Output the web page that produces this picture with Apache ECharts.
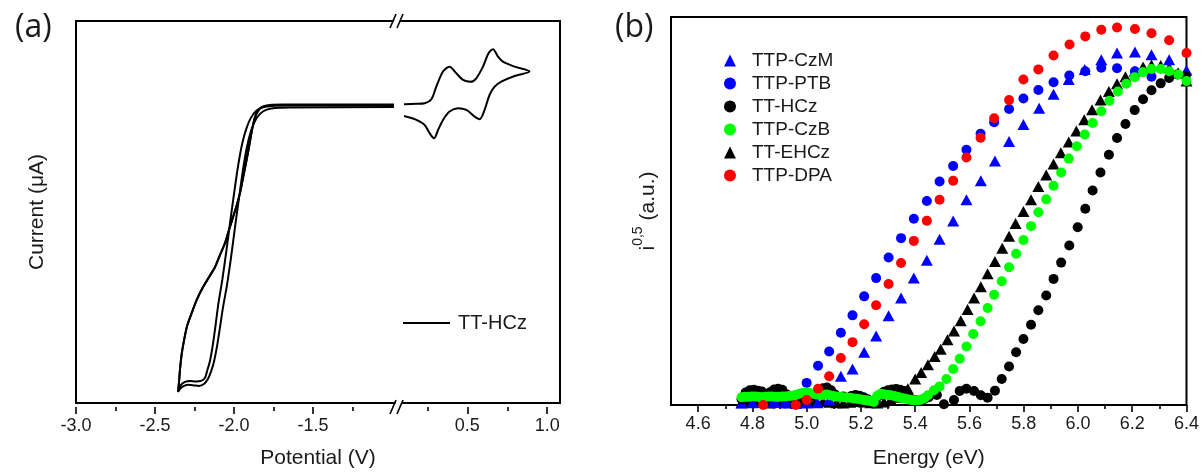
<!DOCTYPE html>
<html>
<head>
<meta charset="utf-8">
<script src="https://cdn.jsdelivr.net/npm/echarts@6/dist/echarts.min.js"></script>
<style>
  html, body { margin: 0; padding: 0; background: #fff; }
  #chart { width: 1202px; height: 474px; }
</style>
</head>
<body>
<div id="chart"></div>
<script>
// ---------- (a) cyclic voltammogram of TT-HCz: [potential (V), current (uA)] ----------
// Reduction side, first cycle: plateau -> cathodic branch -> vertex -> return branch
const cvReductionCycle1 = [
  [-0.987, 0.12], [-1.392, 0.12], [-1.677, 0.11], [-1.772, 0.08], [-1.823, -0.08],
  [-1.848, -0.39], [-1.867, -0.85], [-1.886, -1.87], [-1.905, -3.19], [-1.924, -4.43],
  [-1.943, -5.60], [-1.962, -6.76], [-1.984, -7.77], [-2.006, -8.63], [-2.032, -9.64],
  [-2.057, -10.65], [-2.089, -11.58], [-2.120, -12.51], [-2.158, -13.29], [-2.196, -14.07],
  [-2.234, -15.00], [-2.268, -16.09], [-2.297, -17.10], [-2.316, -18.19], [-2.332, -19.35],
  [-2.342, -20.52], [-2.348, -21.45], [-2.354, -22.23],
  [-2.342, -22.00], [-2.316, -21.76], [-2.285, -21.68], [-2.253, -21.72], [-2.222, -21.76],
  [-2.190, -21.61], [-2.165, -21.22], [-2.146, -20.67], [-2.127, -19.90], [-2.108, -18.73],
  [-2.089, -17.25], [-2.070, -15.70], [-2.044, -13.91], [-2.019, -11.81], [-1.994, -9.48],
  [-1.968, -7.15], [-1.943, -4.97], [-1.918, -3.19], [-1.892, -1.94], [-1.867, -1.17],
  [-1.835, -0.62], [-1.797, -0.31], [-1.741, -0.16], [-1.646, -0.12], [-0.987, -0.08]
];
// Reduction side, second cycle
const cvReductionCycle2 = [
  [-0.987, 0.04], [-1.392, 0.05], [-1.677, 0.05], [-1.772, 0.03], [-1.823, -0.10],
  [-1.848, -0.42], [-1.867, -0.88], [-1.886, -1.90], [-1.905, -3.22], [-1.924, -4.46],
  [-1.943, -5.63], [-1.962, -6.79], [-1.984, -7.80], [-2.006, -8.66], [-2.032, -9.67],
  [-2.057, -10.68], [-2.089, -11.61], [-2.120, -12.54], [-2.158, -13.32], [-2.196, -14.10],
  [-2.234, -15.03], [-2.268, -16.12], [-2.297, -17.13], [-2.316, -18.22], [-2.332, -19.38],
  [-2.342, -20.55], [-2.348, -21.48], [-2.354, -22.20],
  [-2.335, -21.68], [-2.310, -21.45], [-2.278, -21.37], [-2.241, -21.41], [-2.209, -21.37],
  [-2.184, -21.14], [-2.170, -20.60], [-2.152, -19.82], [-2.134, -18.58], [-2.117, -17.10],
  [-2.099, -15.39], [-2.074, -13.52], [-2.049, -11.35], [-2.024, -9.02], [-1.998, -6.68],
  [-1.973, -4.59], [-1.947, -2.88], [-1.920, -1.71], [-1.893, -0.93], [-1.860, -0.39],
  [-1.820, -0.12], [-1.762, 0.00], [-1.646, 0.03], [-0.987, 0.03]
];
// Oxidation side: forward sweep to the vertex, then the return sweep
const cvOxidation = [
  [0.104, 0.13], [0.181, 0.16], [0.233, 0.21], [0.275, 0.52], [0.306, 1.50],
  [0.348, 2.67], [0.389, 3.05], [0.431, 2.54], [0.473, 2.02], [0.521, 1.87],
  [0.556, 2.15], [0.598, 3.05], [0.633, 4.10], [0.661, 4.41], [0.692, 3.83],
  [0.723, 3.44], [0.796, 3.05], [0.889, 2.67],
  [0.796, 2.33], [0.713, 1.89], [0.671, 1.50], [0.639, 0.85], [0.608, -0.31],
  [0.577, -1.03], [0.546, -0.83], [0.494, -0.31], [0.442, -0.18], [0.389, -0.44],
  [0.348, -1.09], [0.317, -1.87], [0.292, -2.51], [0.264, -2.12], [0.233, -1.48],
  [0.171, -1.03], [0.104, -0.78]
];
const potentialLabelsLeft = [-3.0, -2.5, -2.0, -1.5];
const potentialMinorLeft = [-2.75, -2.25, -1.75, -1.25];
const potentialLabelsRight = [0.5, 1.0];
const potentialMinorRight = [0.25, 0.75];

// ---------- (b) photoelectron yield: [energy (eV), i^0.5 (a.u.)] ----------
const energyLabels = [4.6, 4.8, 5.0, 5.2, 5.4, 5.6, 5.8, 6.0, 6.2, 6.4];
const energyMinor = [4.7, 4.9, 5.1, 5.3, 5.5, 5.7, 5.9, 6.1, 6.3];

const ttpCzM = [
  [4.76, 0.5], [4.80, 0.6], [4.84, 0.7], [4.88, 0.7], [4.92, 0.5], [4.96, 0.4], [5.00, 0.5], [5.04, 0.6],
  [5.083, 1.4], [5.126, 7.4], [5.169, 9.3], [5.212, 13.6], [5.256, 17.8], [5.302, 23.0],
  [5.348, 27.6], [5.395, 32.7], [5.443, 37.3], [5.490, 42.7], [5.540, 47.4], [5.589, 52.9],
  [5.642, 57.8], [5.694, 62.9], [5.746, 67.9], [5.799, 72.3], [5.857, 76.5], [5.910, 80.1],
  [5.966, 83.9], [6.025, 86.5], [6.086, 89.0], [6.144, 90.7], [6.210, 91.0], [6.271, 90.3],
  [6.336, 89.0], [6.400, 86.3]
];
const ttpPTB = [
  [4.88, 0.3], [4.922, 0.4], [4.962, 2.55], [5.000, 5.7], [5.042, 10.1], [5.083, 13.8],
  [5.126, 18.6], [5.169, 23.1], [5.212, 28.0], [5.256, 32.7], [5.302, 38.0], [5.348, 43.0],
  [5.395, 48.0], [5.443, 52.6], [5.490, 57.6], [5.540, 61.6], [5.589, 65.8], [5.641, 69.9],
  [5.691, 72.9], [5.746, 76.3], [5.799, 79.0], [5.854, 81.2], [5.910, 83.2], [5.968, 84.9],
  [6.027, 86.0], [6.086, 86.9], [6.144, 86.8], [6.210, 86.0], [6.271, 84.6]
];
const ttHCz = [
  [4.760, 1.5], [4.775, 3.2], [4.790, 3.8], [4.805, 3.9], [4.820, 3.7], [4.835, 3.5],
  [4.850, 2.6], [4.865, 3.3], [4.880, 4.0], [4.895, 4.2], [4.910, 3.9], [4.925, 2.8],
  [4.940, 2.0], [4.955, 1.6], [4.970, 1.8], [4.985, 2.4], [5.000, 3.0], [5.015, 2.2],
  [5.030, 2.9], [5.045, 3.6], [5.060, 4.3], [5.075, 4.5], [5.090, 3.8], [5.105, 2.7],
  [5.120, 2.0], [5.135, 2.2], [5.150, 1.9], [5.165, 2.3], [5.180, 2.6], [5.195, 2.4],
  [5.210, 2.0], [5.225, 1.5], [5.240, 1.0], [5.255, 0.8], [5.270, 2.5], [5.285, 3.4],
  [5.300, 3.8], [5.315, 4.0], [5.330, 4.1], [5.345, 3.9], [5.360, 3.6], [5.375, 2.2],
  [5.390, 1.4], [5.405, 1.2], [5.420, 1.0], [5.435, 1.6], [5.450, 2.0], [5.465, 2.9],
  [5.480, 2.6], [5.506, 0.2], [5.543, 1.3], [5.564, 3.6], [5.589, 4.2], [5.617, 3.6],
  [5.642, 2.5], [5.667, 1.9], [5.694, 3.7], [5.719, 6.7], [5.746, 9.9], [5.772, 13.6],
  [5.799, 17.0], [5.827, 20.7], [5.854, 24.4], [5.883, 28.2], [5.910, 32.5], [5.938, 36.7],
  [5.968, 41.1], [5.999, 45.8], [6.027, 50.6], [6.054, 55.3], [6.083, 59.9], [6.114, 64.5],
  [6.144, 68.8], [6.175, 72.4], [6.209, 76.0], [6.240, 78.8], [6.271, 81.1], [6.305, 82.9],
  [6.336, 84.3], [6.367, 85.2], [6.397, 84.8]
];
const ttpCzB = [
  [4.7600, 2.0], [4.7725, 2.1], [4.7850, 2.1], [4.7975, 2.2], [4.8100, 2.2], [4.8225, 2.1],
  [4.8350, 2.0], [4.8475, 2.1], [4.8600, 2.2], [4.8725, 2.2], [4.8850, 2.1], [4.8975, 2.1],
  [4.9100, 2.2], [4.9225, 2.2], [4.9350, 2.3], [4.9475, 2.4], [4.9600, 2.6], [4.9725, 2.9],
  [4.9850, 3.1], [4.9975, 3.2], [5.0100, 3.1], [5.0225, 2.9], [5.0350, 2.7], [5.0475, 2.6],
  [5.0600, 2.6], [5.0725, 2.7], [5.0850, 2.5], [5.0975, 2.3], [5.1100, 2.2], [5.1225, 2.1],
  [5.1350, 2.0], [5.1475, 1.9], [5.1600, 1.9], [5.1725, 1.7], [5.1850, 1.6], [5.1975, 1.5],
  [5.2100, 1.3], [5.2225, 1.2], [5.2350, 1.0], [5.2475, 0.8], [5.2600, 2.4], [5.2725, 2.9],
  [5.2850, 2.8], [5.2975, 2.6], [5.3100, 2.5], [5.3225, 2.3], [5.3350, 2.1], [5.3475, 1.9],
  [5.3600, 1.7], [5.3725, 1.5], [5.3850, 1.3], [5.3975, 1.2], [5.4100, 1.2], [5.4225, 1.4],
  [5.4350, 1.8], [5.447, 2.5], [5.469, 3.8], [5.490, 4.8], [5.515, 6.7], [5.540, 9.3],
  [5.564, 11.9], [5.589, 15.1], [5.614, 18.3], [5.641, 21.6], [5.667, 25.0], [5.691, 28.4],
  [5.719, 31.9], [5.746, 35.5], [5.772, 39.0], [5.799, 42.5], [5.827, 46.1], [5.854, 49.7],
  [5.883, 53.0], [5.910, 56.5], [5.938, 59.9], [5.966, 63.5], [5.996, 66.7], [6.025, 69.7],
  [6.054, 72.7], [6.086, 75.7], [6.116, 78.4], [6.147, 80.8], [6.178, 82.8], [6.209, 84.5],
  [6.240, 85.8], [6.271, 86.6], [6.305, 86.6], [6.336, 86.0], [6.370, 85.2], [6.400, 83.5]
];
const ttEHCz = [
  [4.760, 0.6], [4.785, 0.8], [4.810, 0.9], [4.835, 0.7], [4.860, 0.5], [4.885, 0.8],
  [4.910, 1.0], [4.935, 0.8], [4.960, 0.6], [4.985, 0.7], [5.010, 0.9], [5.035, 1.1],
  [5.060, 0.9], [5.085, 0.7], [5.110, 0.6], [5.135, 0.5], [5.160, 0.7], [5.185, 0.9],
  [5.210, 0.8], [5.235, 0.6], [5.260, 0.5], [5.285, 0.8], [5.310, 1.4], [5.335, 2.0],
  [5.373, 4.2], [5.400, 6.7], [5.422, 8.4], [5.447, 10.4], [5.472, 12.5], [5.494, 14.4],
  [5.519, 16.8], [5.543, 19.1], [5.568, 21.7], [5.593, 24.6], [5.617, 27.6], [5.642, 30.5],
  [5.667, 33.8], [5.694, 37.0], [5.721, 40.4], [5.746, 43.5], [5.770, 46.8], [5.799, 49.9],
  [5.827, 52.9], [5.854, 56.3], [5.883, 59.3], [5.910, 62.1], [5.937, 65.0], [5.966, 67.8],
  [5.994, 70.6], [6.023, 73.5], [6.052, 76.1], [6.083, 78.6], [6.114, 80.8], [6.144, 82.8],
  [6.175, 84.6], [6.209, 86.0], [6.240, 87.1], [6.271, 87.6], [6.305, 87.5], [6.336, 86.9],
  [6.369, 85.6], [6.400, 83.5]
];
const ttpDPA = [
  [4.84, 0.0], [4.96, 0.0], [5.000, 1.3], [5.042, 4.2], [5.083, 7.4], [5.126, 12.1],
  [5.169, 16.2], [5.212, 20.8], [5.256, 25.7], [5.302, 31.2], [5.348, 36.6], [5.395, 42.3],
  [5.443, 47.5], [5.490, 52.9], [5.540, 57.8], [5.589, 63.8], [5.641, 68.9], [5.691, 73.9],
  [5.746, 78.6], [5.799, 83.9], [5.854, 86.5], [5.910, 90.1], [5.969, 92.9], [6.027, 95.0],
  [6.086, 96.7], [6.144, 97.3], [6.210, 96.9], [6.271, 95.8], [6.336, 94.0], [6.400, 90.7]
];

const FONT = '"Liberation Sans", Arial, sans-serif';
const INK = '#1a1a1a';
const fmt1 = v => Number(v).toFixed(1);

// Panel geometry
const A = { left: 76, top: 21, width: 484, height: 386, breakX: 397 };
const B = { left: 671, top: 17, width: 516, height: 392 };

function hiddenAxis(extra) {
  return Object.assign({
    type: 'value', axisLine: { show: false, onZero: false }, axisTick: { show: false },
    axisLabel: { show: false }, splitLine: { show: false }
  }, extra);
}
function tickAxis(gridIndex, min, max, values, len, labels) {
  return {
    type: 'value', gridIndex, min, max, position: 'bottom',
    axisLine: { show: false, onZero: false }, splitLine: { show: false },
    axisTick: { show: true, inside: false, length: len, customValues: values,
                lineStyle: { color: '#000', width: 1.6 } },
    axisLabel: labels ? { show: true, customValues: labels, formatter: fmt1,
                fontFamily: FONT, fontSize: 18, color: INK, margin: 10 } : { show: false }
  };
}

// Break marks "//" on the top and bottom frame lines of panel (a)
function breakMark(y) {
  return {
    type: 'group', x: A.breakX, y: y, z: 100,
    children: [
      { type: 'polygon', shape: { points: [[-6, 7], [0, 7], [6, -7], [0, -7]] },
        style: { fill: '#fff' } },
      { type: 'line', shape: { x1: -7, y1: 7, x2: -1, y2: -7 }, style: { stroke: '#000', lineWidth: 1.6 } },
      { type: 'line', shape: { x1: 0, y1: 7, x2: 6, y2: -7 }, style: { stroke: '#000', lineWidth: 1.6 } }
    ]
  };
}

const cvLine = { color: '#000', width: 2 };
const nameStyle = { fontFamily: FONT, fontSize: 21, color: INK };

const option = {
  animation: false,
  backgroundColor: '#fff',
  textStyle: { fontFamily: FONT },
  title: [
    { text: '(a)', left: 10, top: 7, textStyle: { fontFamily: '"Open Sans", "Noto Sans", sans-serif', fontSize: 32, fontWeight: 'normal', color: INK } },
    { text: '(b)', left: 610, top: 7, textStyle: { fontFamily: '"Open Sans", "Noto Sans", sans-serif', fontSize: 32, fontWeight: 'normal', color: INK } }
  ],
  grid: [
    // 0: frame of panel (a)
    { left: A.left, top: A.top, width: A.width, height: A.height, show: true, borderColor: '#000', borderWidth: 2, backgroundColor: 'transparent' },
    // 1: reduction side of the broken potential axis
    { left: A.left, top: A.top, width: A.breakX - A.left, height: A.height },
    // 2: oxidation side
    { left: A.breakX, top: A.top, width: A.left + A.width - A.breakX, height: A.height },
    // 3: panel (b)
    { left: B.left, top: B.top, width: B.width, height: B.height, show: true, borderColor: '#000', borderWidth: 2, backgroundColor: 'transparent' }
  ],
  legend: [
    { data: [{ name: 'TT-HCz', icon: 'path://M0,0 H100 V4 H0 Z' }], left: 398, top: 308, itemWidth: 47, itemHeight: 2,
      itemGap: 0, textStyle: { fontFamily: FONT, fontSize: 20, color: INK, padding: [0, 0, 0, 3] } },
    { data: ['TTP-CzM', 'TTP-PTB', 'TT-HCz ', 'TTP-CzB', 'TT-EHCz', 'TTP-DPA'],
      orient: 'vertical', left: 719, top: 46, itemWidth: 12, itemHeight: 12, itemGap: 4,
      textStyle: { fontFamily: FONT, fontSize: 19, color: INK, padding: [0, 0, 0, 11] } }
  ],
  xAxis: [
    hiddenAxis({ gridIndex: 0, min: 0, max: 1, position: 'bottom', name: 'Potential (V)', nameLocation: 'middle', nameGap: 45,
      nameTextStyle: nameStyle }),
    tickAxis(1, -3, -0.968, potentialLabelsLeft, 7, potentialLabelsLeft),
    tickAxis(1, -3, -0.968, potentialMinorLeft, 4, null),
    tickAxis(2, 0.06, 1.08, potentialLabelsRight, 7, potentialLabelsRight),
    tickAxis(2, 0.06, 1.08, potentialMinorRight, 4, null),
    Object.assign(tickAxis(3, 4.5, 6.4, energyLabels, 7, energyLabels), {
      name: 'Energy (eV)', nameLocation: 'middle', nameGap: 43, nameTextStyle: nameStyle }),
    tickAxis(3, 4.5, 6.4, energyMinor, 4, null)
  ],
  yAxis: [
    hiddenAxis({ gridIndex: 0, min: 0, max: 1, name: 'Current (\u03bcA)', nameLocation: 'middle', nameGap: 28,
      nameTextStyle: nameStyle }),
    hiddenAxis({ gridIndex: 1, min: -23.4, max: 6.6 }),
    hiddenAxis({ gridIndex: 2, min: -23.4, max: 6.6 }),
    hiddenAxis({ gridIndex: 3, min: 0, max: 100, name: '{n|i}{s|0,5}{n| (a.u.)}', nameLocation: 'middle', nameGap: 12,
      nameTextStyle: { fontFamily: FONT, fontSize: 21, color: INK,
        rich: { n: { fontFamily: FONT, fontSize: 21, color: INK, lineHeight: 28, verticalAlign: 'bottom' },
                s: { fontFamily: FONT, fontSize: 14, color: INK, lineHeight: 14, verticalAlign: 'top' } } } })
  ],
  graphic: [breakMark(A.top), breakMark(A.top + A.height)],
  series: [
    { name: 'TT-HCz', type: 'line', xAxisIndex: 1, yAxisIndex: 1, data: cvReductionCycle1,
      symbol: 'none', smooth: 0.25, lineStyle: cvLine, itemStyle: { color: '#000' } },
    { name: 'TT-HCz', type: 'line', xAxisIndex: 1, yAxisIndex: 1, data: cvReductionCycle2,
      symbol: 'none', smooth: 0.25, lineStyle: cvLine, itemStyle: { color: '#000' } },
    { name: 'TT-HCz', type: 'line', xAxisIndex: 3, yAxisIndex: 2, data: cvOxidation,
      symbol: 'none', smooth: 0.3, lineStyle: cvLine, itemStyle: { color: '#000' } },

    { name: 'TTP-CzM', type: 'scatter', xAxisIndex: 5, yAxisIndex: 3, data: ttpCzM, z: 3,
      symbol: 'triangle', symbolSize: [12, 11], itemStyle: { color: '#0000ff', opacity: 1 } },
    { name: 'TTP-PTB', type: 'scatter', xAxisIndex: 5, yAxisIndex: 3, data: ttpPTB, z: 3,
      symbol: 'circle', symbolSize: 10, itemStyle: { color: '#0000ff', opacity: 1 } },
    { name: 'TT-HCz ', type: 'scatter', xAxisIndex: 5, yAxisIndex: 3, data: ttHCz, z: 3,
      symbol: 'circle', symbolSize: 10, itemStyle: { color: '#000000', opacity: 1 } },
    { name: 'TTP-CzB', type: 'scatter', xAxisIndex: 5, yAxisIndex: 3, data: ttpCzB, z: 4,
      symbol: 'circle', symbolSize: 10, itemStyle: { color: '#00ff00', opacity: 1 } },
    { name: 'TT-EHCz', type: 'scatter', xAxisIndex: 5, yAxisIndex: 3, data: ttEHCz, z: 2,
      symbol: 'triangle', symbolSize: [12, 11], itemStyle: { color: '#000000', opacity: 1 } },
    { name: 'TTP-DPA', type: 'scatter', xAxisIndex: 5, yAxisIndex: 3, data: ttpDPA, z: 4,
      symbol: 'circle', symbolSize: 10, itemStyle: { color: '#ff0000', opacity: 1 } }
  ]
};

const chart = echarts.init(document.getElementById('chart'), null, { renderer: 'canvas' });
chart.setOption(option);
</script>
</body>
</html>
